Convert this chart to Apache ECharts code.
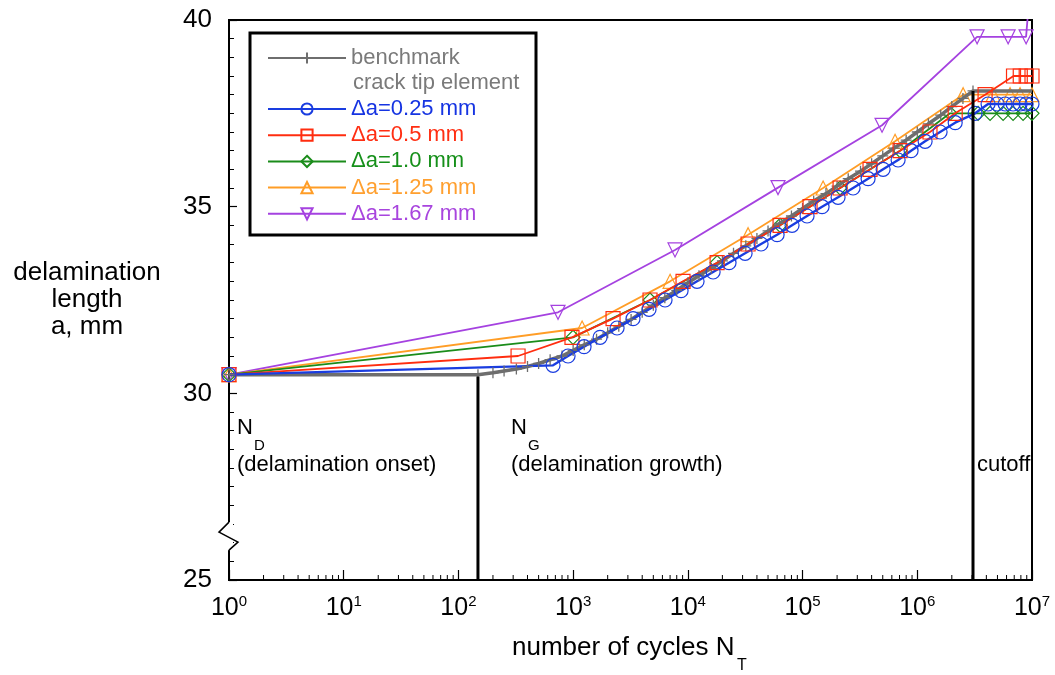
<!DOCTYPE html>
<html><head><meta charset="utf-8">
<script src="https://cdn.jsdelivr.net/npm/echarts@6/dist/echarts.min.js"></script>
<style>html,body{margin:0;padding:0;background:#fff}#c{width:1055px;height:675px}</style>
</head><body><div id="c"></div>
<script>
// ---- data (cycles N, delamination length a in mm) ----
const benchN = [1, 148, 200, 250, 320, 400, 500, 630, 800, 1000, 1250, 1600, 2000, 2500, 3200, 4000, 5000, 6300, 8000, 1e4, 1.25e4, 1.6e4, 2e4, 2.5e4, 3.2e4, 4e4, 5e4, 6.3e4, 8e4, 1e5, 1.25e5, 1.6e5, 2e5, 2.5e5, 3.2e5, 4e5, 5e5, 6.3e5, 8e5, 1e6, 1.25e6, 1.6e6, 2e6, 2.5e6, 3.06e6, 1e7];
const benchA = [30.5, 30.5, 30.55, 30.6, 30.65, 30.72, 30.8, 30.9, 31.0, 31.15, 31.3, 31.45, 31.62, 31.8, 31.98, 32.17, 32.36, 32.56, 32.76, 32.96, 33.15, 33.35, 33.55, 33.75, 33.95, 34.15, 34.35, 34.55, 34.75, 34.95, 35.15, 35.35, 35.55, 35.75, 35.95, 36.15, 36.36, 36.57, 36.78, 37.0, 37.22, 37.45, 37.68, 37.9, 38.1, 38.1];

const blueN = [1, 668, 903, 1245, 1717, 2415, 3327, 4590, 6325, 8730, 12030, 16600, 22860, 31550, 43470, 59980, 80950, 109400, 147900, 203900, 275600, 372400, 503500, 680300, 883000, 1.17e6, 1.58e6, 2.14e6, 3.19e6, 4.14e6, 4.97e6, 5.83e6, 6.84e6, 7.87e6, 8.89e6, 1e7];
const blueA = [30.5, 30.75, 31.0, 31.25, 31.5, 31.75, 32.0, 32.25, 32.5, 32.75, 33.0, 33.25, 33.5, 33.75, 34.0, 34.25, 34.5, 34.75, 35.0, 35.25, 35.5, 35.75, 36.0, 36.25, 36.5, 36.75, 37.0, 37.25, 37.5, 37.75, 37.75, 37.75, 37.75, 37.75, 37.75, 37.75];

const redN = [1, 331, 977, 2228, 4680, 9080, 17990, 33500, 63660, 116200, 212300, 387400, 708000, 1.29e6, 2.14e6, 3.9e6, 6.9e6, 7.9e6, 8.9e6, 1e7];
const redA = [30.5, 31.0, 31.5, 32.0, 32.5, 33.0, 33.5, 34.0, 34.5, 35.0, 35.5, 36.0, 36.5, 37.0, 37.5, 38.0, 38.5, 38.5, 38.5, 38.5];

const greenN = [1, 998, 4680, 17990, 63660, 212300, 708000, 1.93e6, 3.39e6, 4.31e6, 5.6e6, 6.84e6, 8.36e6, 1e7];
const greenA = [30.5, 31.5, 32.5, 33.5, 34.5, 35.5, 36.5, 37.5, 37.5, 37.5, 37.5, 37.5, 37.5, 37.5];

const orangeN = [1, 1197, 7000, 33500, 151000, 640000, 2.51e6, 4.58e6, 6.44e6, 7.87e6, 1e7];
const orangeA = [30.5, 31.75, 33.0, 34.25, 35.5, 36.75, 38.0, 38.0, 38.0, 38.0, 38.0];

const purpleN = [1, 738, 7730, 61100, 493000, 3.32e6, 6.19e6, 8.88e6, 9.7e6];
const purpleA = [30.5, 32.17, 33.84, 35.51, 37.18, 39.55, 39.55, 39.55, 41];

const onsetLineN = [148, 148];
const onsetLineA = [25, 30.45];
const cutoffLineN = [3.06e6, 3.06e6];
const cutoffLineA = [25, 38.1];

const seriesNames = ['benchmark', 'Δa=0.25 mm', 'Δa=0.5 mm', 'Δa=1.0 mm', 'Δa=1.25 mm', 'Δa=1.67 mm'];
const xTickExponents = [0, 1, 2, 3, 4, 5, 6, 7];
const yTicks = [25, 30, 35, 40];

// ---- styling ----
const FONT = '"Liberation Sans", Arial, Helvetica, sans-serif';
const C = {gray: '#6e6e6e', blue: '#1a3de0', red: '#ff2d0f', green: '#1a8c1a', orange: '#ff9d26', purple: '#a542e0'};
const TC = {gray: '#7a7a7a', blue: '#1634e2', red: '#ff2e12', green: '#16901a', orange: '#ffa030', purple: '#a845de'};

function pairs(xs, ys) { return xs.map((x, i) => [x, ys[i]]); }

function mk(name, xs, ys, color, symbol, rot, lw, z) {
  return {
    name, type: 'line', data: pairs(xs, ys), symbol, symbolSize: 14, symbolRotate: rot || 0,
    showAllSymbol: true, animation: false, clip: true, z,
    lineStyle: {color, width: lw},
    itemStyle: {color: 'rgba(255,255,255,0)', borderColor: color, borderWidth: 1.2}
  };
}

const benchSeries = mk(seriesNames[0], benchN, benchA, C.gray, 'path://M5,0L5,10M0,5L10,5', 0, 3.5, 3);
benchSeries.symbolSize = 11;
benchSeries.itemStyle = {color: 'rgba(0,0,0,0)', borderColor: C.gray, borderWidth: 1.3};
benchSeries.data[benchSeries.data.length - 1] = {value: benchSeries.data[benchSeries.data.length - 1], symbol: 'none'};

const purpleSeries = mk(seriesNames[5], purpleN, purpleA, C.purple, 'triangle', 180, 1.8, 2);
purpleSeries.data[purpleSeries.data.length - 1] = {value: purpleSeries.data[purpleSeries.data.length - 1], symbol: 'none'};

const minorVals = [];
for (let d = 0; d < 7; d++) for (let k = 2; k <= 9; k++) minorVals.push([k * Math.pow(10, d), 25]);

const chart = echarts.init(document.getElementById('c'));
const option = {
  animation: false,
  backgroundColor: '#fff',
  grid: {left: 229, right: 23, top: 20, bottom: 95, show: true, borderColor: '#000', borderWidth: 2, backgroundColor: 'transparent'},
  xAxis: {
    type: 'log', logBase: 10, min: 1, max: 1e7,
    axisLine: {lineStyle: {color: '#000', width: 2}},
    axisTick: {inside: true, length: 10, lineStyle: {color: '#000', width: 1.2}},
    splitLine: {show: false},
    axisLabel: {
      margin: 14, color: '#000',
      formatter: v => '{b|10}{s|' + Math.round(Math.log10(v)) + '}',
      rich: {b: {fontSize: 25, fontFamily: FONT, color: '#000'}, s: {fontSize: 15, fontFamily: FONT, color: '#000', padding: [0, 0, 14, 0]}}
    }
  },
  yAxis: {
    type: 'value', min: 25, max: 40, interval: 5,
    axisLine: {lineStyle: {color: '#000', width: 2}},
    axisTick: {inside: true, length: 8, lineStyle: {color: '#000', width: 1.2}},
    minorTick: {show: true, splitNumber: 10, length: 5, lineStyle: {color: '#000', width: 1}},
    splitLine: {show: false},
    axisLabel: {margin: 17, fontSize: 26, fontFamily: FONT, color: '#000', formatter: v => yTicks.includes(v) ? String(v) : ''}
  },
  legend: [
    {data: [{name: seriesNames[0], textStyle: {color: TC.gray}}], orient: 'vertical', left: 267, top: 47, padding: 0,
     itemWidth: 78, itemHeight: 14, textStyle: {fontSize: 22, fontFamily: FONT, lineHeight: 22}, selectedMode: false, z: 10},
    {data: [
      {name: seriesNames[1], textStyle: {color: TC.blue}},
      {name: seriesNames[2], textStyle: {color: TC.red}},
      {name: seriesNames[3], textStyle: {color: TC.green}},
      {name: seriesNames[4], textStyle: {color: TC.orange}},
      {name: seriesNames[5], textStyle: {color: TC.purple}}],
     orient: 'vertical', left: 267, top: 98, padding: 0, itemGap: 4.2,
     itemWidth: 78, itemHeight: 14, textStyle: {fontSize: 22, fontFamily: FONT, lineHeight: 22}, selectedMode: false, z: 10}
  ],
  series: [
    purpleSeries,
    mk(seriesNames[4], orangeN, orangeA, C.orange, 'triangle', 0, 1.8, 2),
    mk(seriesNames[3], greenN, greenA, C.green, 'diamond', 0, 1.8, 2),
    benchSeries,
    mk(seriesNames[2], redN, redA, C.red, 'rect', 0, 1.8, 3),
    mk(seriesNames[1], blueN, blueA, C.blue, 'circle', 0, 2.4, 3),
    {name: 'onset', type: 'line', data: pairs(onsetLineN, onsetLineA), symbol: 'none', lineStyle: {color: '#000', width: 3}, z: 4, animation: false},
    {name: 'cutoff', type: 'line', data: pairs(cutoffLineN, cutoffLineA), symbol: 'none', lineStyle: {color: '#000', width: 3}, z: 4, animation: false},
    {name: 'minorX', type: 'custom', data: minorVals, silent: true, z: 5, clip: false, encode: {x: 0, y: 1},
     renderItem: (params, api) => {
       const p = api.coord([api.value(0), api.value(1)]);
       return {type: 'line', shape: {x1: p[0], y1: p[1], x2: p[0], y2: p[1] - 5}, style: {stroke: '#000', lineWidth: 1}};
     }}
  ]
};
chart.setOption(option);

// break mark on the y axis and text annotations
const bTop = chart.convertToPixel({gridIndex: 0}, [1, 26.55]);
const bBot = chart.convertToPixel({gridIndex: 0}, [1, 25.8]);
const x0 = bTop[0];
const txt = (text, x, y, size, extra) => Object.assign({type: 'text', x, y, z: 20,
  style: Object.assign({text, fontSize: size, fontFamily: FONT, fill: '#000', textVerticalAlign: 'middle'}, extra || {})});
chart.setOption({
  graphic: [
    {type: 'rect', shape: {x: x0 - 4, y: bTop[1], width: 8, height: bBot[1] - bTop[1]}, style: {fill: '#fff'}, z: 20},
    {type: 'polyline', shape: {points: [[x0, bTop[1]], [x0 - 10, bTop[1] + 10], [x0 + 9, bTop[1] + 20], [x0, bBot[1]]]}, style: {stroke: '#000', lineWidth: 1.5, fill: null}, z: 21},
    {type: 'rect', shape: {x: 250, y: 33, width: 286, height: 202}, style: {fill: '#fff', stroke: '#000', lineWidth: 3}, z: 5},
    txt('crack tip element', 353, 83, 22, {fill: TC.gray}),
    txt('N', 237, 428, 22),
    txt('D', 254, 446, 15),
    txt('(delamination onset)', 237, 465, 22),
    txt('N', 511, 428, 22),
    txt('G', 528, 446, 15),
    txt('(delamination growth)', 511, 465, 22),
    txt('cutoff', 977, 465, 22),
    txt('delamination', 87, 273, 26, {textAlign: 'center'}),
    txt('length', 87, 300, 26, {textAlign: 'center'}),
    txt('a, mm', 87, 327, 26, {textAlign: 'center'}),
    txt('number of cycles N', 512, 648, 26),
    txt('T', 737, 666, 16)
  ]
});
</script>
</body></html>
